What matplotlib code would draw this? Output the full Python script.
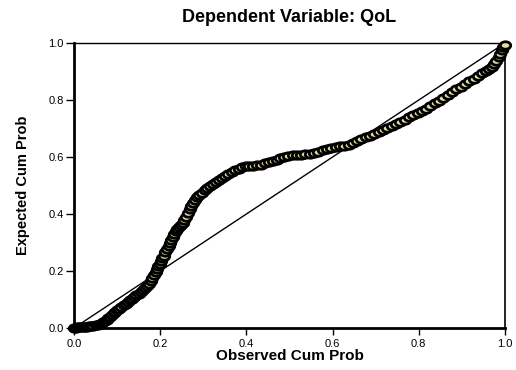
import numpy as np
import matplotlib.pyplot as plt
from matplotlib.path import Path

# Normal P-P plot of regression standardized residual (QoL)
obs_prob = [0.000, 0.004, 0.008, 0.012, 0.016, 0.020, 0.025, 0.030, 0.035, 0.040,
            0.045, 0.050, 0.055, 0.060, 0.064, 0.068, 0.072, 0.076, 0.080, 0.084,
            0.088, 0.092, 0.096, 0.100, 0.105, 0.110, 0.115, 0.120, 0.125, 0.130,
            0.135, 0.140, 0.145, 0.150, 0.155, 0.160, 0.165, 0.170, 0.174, 0.178,
            0.182, 0.186, 0.190, 0.193, 0.196, 0.199, 0.202, 0.205, 0.208, 0.212,
            0.216, 0.220, 0.223, 0.226, 0.229, 0.232, 0.236, 0.240, 0.244, 0.248,
            0.252, 0.256, 0.260, 0.264, 0.268, 0.272, 0.276, 0.281, 0.286, 0.291,
            0.297, 0.303, 0.309, 0.315, 0.322, 0.329, 0.336, 0.343, 0.350, 0.358,
            0.366, 0.374, 0.382, 0.390, 0.398, 0.407, 0.416, 0.425, 0.434, 0.443,
            0.452, 0.461, 0.470, 0.479, 0.488, 0.497, 0.507, 0.517, 0.527, 0.537,
            0.547, 0.557, 0.567, 0.577, 0.587, 0.597, 0.607, 0.617, 0.627, 0.637,
            0.647, 0.657, 0.667, 0.677, 0.687, 0.697, 0.707, 0.717, 0.727, 0.737,
            0.747, 0.757, 0.767, 0.777, 0.787, 0.797, 0.807, 0.817, 0.827, 0.837,
            0.847, 0.857, 0.867, 0.877, 0.887, 0.897, 0.907, 0.917, 0.927, 0.937,
            0.947, 0.955, 0.962, 0.969, 0.975, 0.980, 0.985, 0.989, 0.993, 0.996,
            0.999]
exp_prob = [0.000, 0.001, 0.002, 0.003, 0.003, 0.004, 0.004, 0.005, 0.006, 0.007,
            0.008, 0.009, 0.011, 0.014, 0.017, 0.021, 0.024, 0.028, 0.034, 0.040,
            0.045, 0.051, 0.057, 0.063, 0.068, 0.074, 0.079, 0.085, 0.090, 0.097,
            0.103, 0.109, 0.115, 0.121, 0.127, 0.133, 0.139, 0.146, 0.155, 0.165,
            0.175, 0.185, 0.196, 0.206, 0.216, 0.226, 0.236, 0.246, 0.254, 0.265,
            0.277, 0.289, 0.299, 0.310, 0.321, 0.330, 0.339, 0.348, 0.356, 0.363,
            0.370, 0.378, 0.389, 0.402, 0.416, 0.429, 0.440, 0.450, 0.458, 0.466,
            0.474, 0.483, 0.491, 0.498, 0.505, 0.512, 0.519, 0.527, 0.534, 0.541,
            0.547, 0.553, 0.559, 0.565, 0.568, 0.569, 0.570, 0.571, 0.573, 0.578,
            0.583, 0.587, 0.591, 0.595, 0.599, 0.603, 0.606, 0.607, 0.608, 0.609,
            0.611, 0.614, 0.619, 0.624, 0.629, 0.633, 0.636, 0.638, 0.640, 0.643,
            0.649, 0.657, 0.664, 0.669, 0.674, 0.679, 0.687, 0.695, 0.702, 0.709,
            0.716, 0.723, 0.731, 0.739, 0.746, 0.753, 0.761, 0.770, 0.779, 0.789,
            0.798, 0.807, 0.817, 0.827, 0.837, 0.847, 0.856, 0.865, 0.874, 0.883,
            0.893, 0.901, 0.909, 0.917, 0.927, 0.938, 0.950, 0.962, 0.975, 0.985,
            0.993]
ticks = [0.0, 0.2, 0.4, 0.6, 0.8, 1.0]
tick_labels = ["0.0", "0.2", "0.4", "0.6", "0.8", "1.0"]

plt.rcParams['font.family'] = ['Liberation Sans', 'DejaVu Sans']

# the markers in the original look slightly wider than tall
circle = Path.unit_circle()
oval = Path(circle.vertices * [1.4, 1.0], circle.codes)

fig = plt.figure(figsize=(5.16, 3.70), dpi=100)
ax = fig.add_axes([74 / 516, 42 / 370, 431 / 516, 285 / 370])

# reference line
ax.plot([0, 1], [0, 1], color='black', linewidth=1.0, zorder=2)

ax.plot(obs_prob, exp_prob, linestyle='none', marker=oval, markersize=7.5,
        markerfacecolor='#e4dba2', markeredgecolor='black', markeredgewidth=2.0,
        zorder=3, clip_on=False)

ax.set_xlim(0, 1)
ax.set_ylim(0, 1)
ax.set_xticks(ticks)
ax.set_xticklabels(tick_labels)
ax.set_yticks(ticks)
ax.set_yticklabels(tick_labels)
ax.tick_params(axis='both', direction='out', labelsize=8, width=1.0, color='black')
ax.tick_params(axis='x', length=5, pad=3)
ax.tick_params(axis='y', length=6, pad=1.5)

ax.spines['left'].set_linewidth(2.0)
ax.spines['bottom'].set_linewidth(2.0)
ax.spines['top'].set_linewidth(1.0)
ax.spines['right'].set_linewidth(1.2)

ax.set_xlabel("Observed Cum Prob", fontsize=11, fontweight='bold', va='center')
ax.xaxis.set_label_coords(0.5, -28 / 285)
ax.set_ylabel("Expected Cum Prob", fontsize=10.5, fontweight='bold', va='center')
ax.yaxis.set_label_coords(-51 / 431, 0.5)

fig.text(289.5 / 516, 1 - 18 / 370, "Dependent Variable: QoL", fontsize=13,
         fontweight='bold', ha='center', va='center')

fig.savefig("out.png", dpi=100)
